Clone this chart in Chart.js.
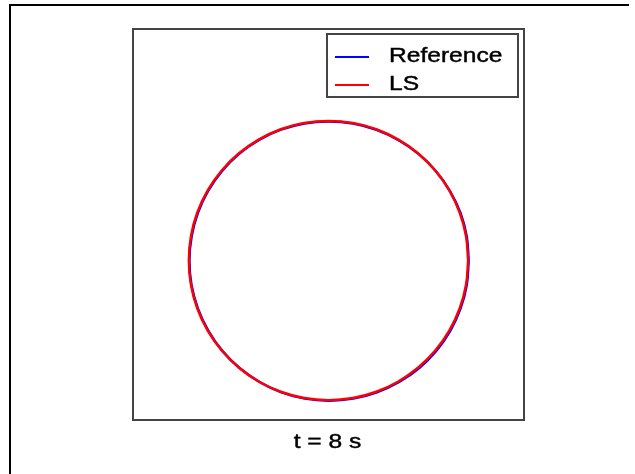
<!DOCTYPE html>
<html>
<head>
<meta charset="utf-8">
<script src="https://cdn.jsdelivr.net/npm/chart.js@4/dist/chart.umd.min.js"></script>
<style>
  html, body { margin: 0; padding: 0; background: #fff; }
  #wrap { position: relative; width: 635px; height: 474px; overflow: hidden; }
  #frame { position: absolute; left: 9px; top: 4px; width: 618px; height: 480px;
           border-left: 2px solid #000; border-top: 2px solid #000; }
  canvas { position: absolute; left: 0; top: 0; }
</style>
</head>
<body>
<div id="wrap">
  <div id="frame"></div>
  <canvas id="circle-chart" width="635" height="474"></canvas>
</div>
<script>
// contour samples every 10 degrees, closed
const lsX = [1.000, 0.985, 0.940, 0.866, 0.766, 0.643, 0.500, 0.342, 0.174, 0.000,
  -0.174, -0.342, -0.500, -0.643, -0.766, -0.866, -0.940, -0.985, -1.000,
  -0.985, -0.940, -0.866, -0.766, -0.643, -0.500, -0.342, -0.174, 0.000,
  0.174, 0.342, 0.500, 0.643, 0.766, 0.866, 0.940, 0.985, 1.000];
const lsY = [0.000, 0.174, 0.342, 0.500, 0.643, 0.766, 0.866, 0.940, 0.985, 1.000,
  0.985, 0.940, 0.866, 0.766, 0.643, 0.500, 0.342, 0.174, 0.000,
  -0.174, -0.342, -0.500, -0.643, -0.766, -0.866, -0.940, -0.985, -1.000,
  -0.985, -0.940, -0.866, -0.766, -0.643, -0.500, -0.342, -0.174, 0.000];

const refX = [1.004, 0.990, 0.946, 0.871, 0.770, 0.646, 0.502, 0.343, 0.175, 0.001,
  -0.172, -0.340, -0.497, -0.640, -0.762, -0.861, -0.935, -0.980, -0.996,
  -0.981, -0.935, -0.860, -0.760, -0.637, -0.494, -0.337, -0.170, 0.003,
  0.178, 0.347, 0.506, 0.650, 0.773, 0.873, 0.946, 0.990, 1.004];
const refY = [0.000, 0.172, 0.339, 0.496, 0.639, 0.762, 0.862, 0.936, 0.981, 0.996,
  0.982, 0.937, 0.864, 0.765, 0.642, 0.500, 0.342, 0.174, 0.000,
  -0.175, -0.344, -0.503, -0.647, -0.770, -0.870, -0.944, -0.989, -1.004,
  -0.989, -0.944, -0.870, -0.770, -0.646, -0.502, -0.343, -0.175, 0.000];

const seriesLabels = ['Reference', 'LS'];
const seriesColors = ['#0000ff', '#ff0000'];
const titleText = 't = 8 s';

const FONT = '21px Arial, "Liberation Sans", sans-serif';
const STRETCH = 1.17;

const toPoints = (xs, ys) => xs.map((x, i) => ({ x: x, y: ys[i] }));

// text drawn a bit wider and heavier than the plain font
const wideText = (ctx, text, x, y, align) => {
  ctx.save();
  ctx.translate(x, y);
  ctx.scale(STRETCH, 1);
  ctx.textAlign = align;
  ctx.fillText(text, 0, 0);
  ctx.strokeStyle = ctx.fillStyle;
  ctx.lineWidth = 0.45;
  ctx.strokeText(text, 0, 0);
  ctx.restore();
};

// plot box, legend in its top right corner, caption underneath
const boxAndLegend = {
  id: 'boxAndLegend',
  afterDraw(chart) {
    const ctx = chart.ctx;
    const a = chart.chartArea;
    ctx.save();
    ctx.strokeStyle = '#444';
    ctx.lineWidth = 2;
    ctx.strokeRect(a.left, a.top, a.right - a.left, a.bottom - a.top);

    const lx = a.right - 197, ly = a.top + 5, lw = 191, lh = 63;
    ctx.fillStyle = '#fff';
    ctx.fillRect(lx, ly, lw, lh);
    ctx.strokeRect(lx, ly, lw, lh);

    ctx.font = FONT;
    ctx.textBaseline = 'middle';
    chart.data.datasets.forEach((ds, i) => {
      const yy = ly + 23 + i * 28;
      ctx.strokeStyle = ds.borderColor;
      ctx.lineWidth = 2;
      ctx.beginPath();
      ctx.moveTo(lx + 8, yy);
      ctx.lineTo(lx + 42, yy);
      ctx.stroke();
      ctx.fillStyle = '#000';
      wideText(ctx, ds.label, lx + 62, yy - 1, 'left');
    });

    ctx.fillStyle = '#000';
    wideText(ctx, titleText, (a.left + a.right) / 2 - 1, a.bottom + 22, 'center');
    ctx.restore();
  }
};

new Chart(document.getElementById('circle-chart'), {
  type: 'scatter',
  data: {
    datasets: [
      {
        label: seriesLabels[0],
        data: toPoints(refX, refY),
        borderColor: seriesColors[0],
        order: 1
      },
      {
        label: seriesLabels[1],
        data: toPoints(lsX, lsY),
        borderColor: seriesColors[1],
        order: 0
      }
    ]
  },
  options: {
    responsive: false,
    animation: false,
    showLine: true,
    elements: {
      point: { radius: 0 },
      line: { borderWidth: 2.5, tension: 0.4, fill: false }
    },
    layout: { padding: { left: 133, top: 29, right: 111, bottom: 54 } },
    plugins: {
      legend: { display: false },
      tooltip: { enabled: false },
      title: { display: false }
    },
    scales: {
      x: { type: 'linear', min: -1.4, max: 1.4, display: false },
      y: { type: 'linear', min: -1.142, max: 1.658, display: false }
    }
  },
  plugins: [boxAndLegend]
});
</script>
</body>
</html>
